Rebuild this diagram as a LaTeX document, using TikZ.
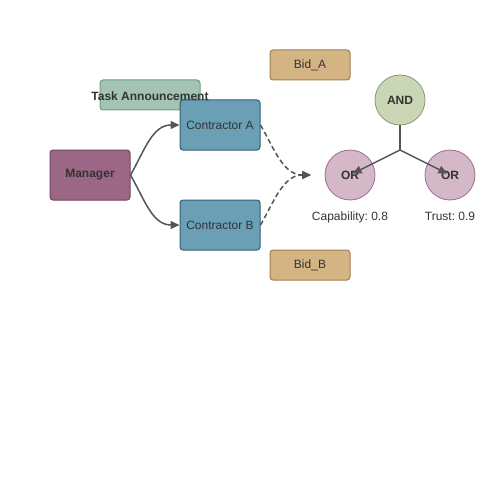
\documentclass[tikz,border=0pt]{standalone}
\usepackage{fontspec}
\setmainfont{Liberation Sans}
\usetikzlibrary{arrows.meta,positioning,calc}
\frenchspacing

\definecolor{mgrfill}{HTML}{9C6785}
\definecolor{mgrdraw}{HTML}{6E4660}
\definecolor{annfill}{HTML}{A3C4B4}
\definecolor{anndraw}{HTML}{6E9C86}
\definecolor{confill}{HTML}{6A9FB5}
\definecolor{condraw}{HTML}{2F5F75}
\definecolor{bidfill}{HTML}{D4B483}
\definecolor{biddraw}{HTML}{A0804F}
\definecolor{andfill}{HTML}{C9D5B5}
\definecolor{anddraw}{HTML}{8A9A72}
\definecolor{orfill}{HTML}{D4B8C8}
\definecolor{ordraw}{HTML}{9A7088}
\definecolor{txt}{HTML}{333333}
\definecolor{wire}{HTML}{555555}

\tikzset{
    box/.style={draw, rectangle, rounded corners=3pt, line width=1pt, minimum width=80pt, text=txt, font=\fontsize{12}{14}\selectfont},
    gate/.style={draw, circle, line width=0.8pt, minimum size=50pt, inner sep=0pt, text=txt, font=\fontsize{12}{14}\selectfont\bfseries},
    link/.style={-{Triangle[length=9pt,width=8pt]}, draw=wire, fill=none, line width=1.5pt},
    bidlink/.style={link, dash pattern=on 5pt off 3pt}
}

\begin{document}
\begin{tikzpicture}[x=1pt, y=-1pt]
    \useasboundingbox (0,0) rectangle (500,500);
    % Nodes
    \node[box, fill=annfill, draw=anndraw, minimum width=100pt, minimum height=30pt] (announce) at (150,95) {};
    \node[box, fill=mgrfill, draw=mgrdraw, minimum height=50pt, font=\fontsize{12}{14}\selectfont\bfseries] (manager) at (90,175) {Manager};
    \node[box, fill=confill, draw=condraw, minimum height=50pt] (conA) at (220,125) {Contractor A};
    \node[box, fill=confill, draw=condraw, minimum height=50pt] (conB) at (220,225) {Contractor B};
    \node[text=txt, font=\fontsize{12}{14}\selectfont\bfseries] (announcetext) at (150,96) {Task Announcement};
    \node[box, fill=bidfill, draw=biddraw, minimum height=30pt] (bidA) at (310,65) {Bid\_A};
    \node[box, fill=bidfill, draw=biddraw, minimum height=30pt] (bidB) at (310,265) {Bid\_B};
    \coordinate (collect) at (311,175);

    % Gates
    \node[gate, fill=andfill, draw=anddraw] (and) at (400,100) {AND};
    \node[gate, fill=orfill, draw=ordraw] (orL) at (350,175) {OR};
    \node[gate, fill=orfill, draw=ordraw] (orR) at (450,175) {OR};
    \coordinate (fork) at (400,150);
    \node[text=txt, font=\fontsize{12}{14}\selectfont, below=8pt of orL.south] (capability) {Capability: 0.8};
    \node[text=txt, font=\fontsize{12}{14}\selectfont, below=8pt of orR.south] (trust) {Trust: 0.9};

    % Connections
    \draw[link] (manager.east) to[out=60, in=180] (conA.west);
    \draw[link] (manager.east) to[out=-60, in=180] (conB.west);
    \draw[bidlink] (conA.east) to[out=-60, in=180] (collect);
    \draw[bidlink] (conB.east) to[out=60, in=180] (collect);
    \draw[draw=wire, line width=1.5pt] (and.south) -- (fork);
    \draw[link, shorten >=3pt] (fork) -- (orL.center);
    \draw[link, shorten >=3pt] (fork) -- (orR.center);
\end{tikzpicture}
\end{document}
